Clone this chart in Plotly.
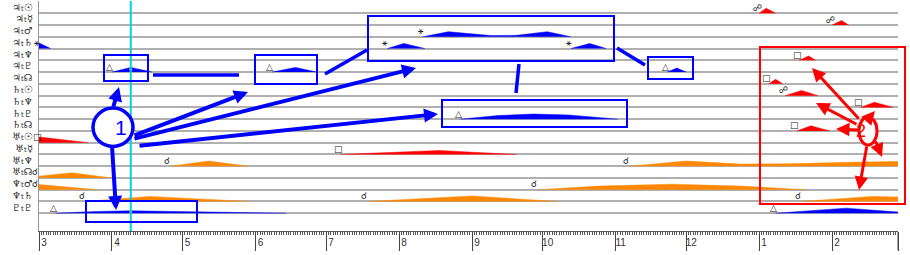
import numpy as np
import pandas as pd
import plotly.graph_objects as go

# ---------------- data ----------------
TRANSITING = ["♃", "♃", "♃", "♃", "♃", "♃", "♃", "♄", "♄", "♄", "♄",
              "♅", "♅", "♅", "♅", "♆", "♆", "♇"]
NATAL = ["☉", "☿", "♂", "♄", "♆", "♇", "☊", "☉", "♆", "♇", "☊",
         "☉", "☿", "♆", "☊", "♂", "♄", "♇"]

EVENT_ROW = [0, 1, 2, 3, 3, 3, 4, 5, 5, 5, 6, 7, 8, 9, 10, 11, 12, 13, 13,
             14, 15, 15, 16, 16, 16, 17, 17]
EVENT_ASPECT = ["☍", "☍", "⚹", "⚹", "⚹", "⚹", "□", "△", "△", "△", "□", "☍", "□",
                "△", "□", "□", "□", "☌", "☌", "☌", "☌", "☌", "☌", "☌", "☌",
                "△", "△"]
EVENT_DATES = [
    ["2023-01-01", "2023-01-04", "2023-01-08"],
    ["2023-02-01", "2023-02-05", "2023-02-08"],
    ["2022-08-11", "2022-08-22", "2022-09-09", "2022-09-20", "2022-10-03", "2022-10-13"],
    ["2022-03-01", "2022-03-01", "2022-03-06"],
    ["2022-07-27", "2022-08-03", "2022-08-12"],
    ["2022-10-13", "2022-10-21", "2022-10-28"],
    ["2023-01-18", "2023-01-22", "2023-01-25"],
    ["2022-04-01", "2022-04-09", "2022-04-18"],
    ["2022-06-08", "2022-06-18", "2022-06-27"],
    ["2022-11-23", "2022-11-27", "2022-12-01"],
    ["2023-01-05", "2023-01-08", "2023-01-11"],
    ["2023-01-12", "2023-01-19", "2023-01-26"],
    ["2023-02-13", "2023-02-19", "2023-02-27"],
    ["2022-08-27", "2022-09-12", "2022-09-27", "2022-10-12", "2022-11-02"],
    ["2023-01-17", "2023-01-23", "2023-01-31"],
    ["2022-03-01", "2022-03-01", "2022-03-22"],
    ["2022-07-07", "2022-08-18", "2022-09-20"],
    ["2022-04-26", "2022-05-12", "2022-05-29"],
    ["2022-11-07", "2022-12-01", "2022-12-24", "2023-01-14", "2023-02-08", "2023-03-01", "2023-03-01"],
    ["2022-03-01", "2022-03-01", "2022-03-15", "2022-04-01"],
    ["2022-03-01", "2022-03-01", "2022-03-26"],
    ["2022-09-29", "2022-10-25", "2022-11-25", "2022-12-24", "2023-01-21"],
    ["2022-03-21", "2022-04-17", "2022-05-29"],
    ["2022-07-19", "2022-09-01", "2022-10-07"],
    ["2023-01-19", "2023-02-18", "2023-03-01", "2023-03-01"],
    ["2022-03-08", "2022-03-26", "2022-04-09", "2022-04-30", "2022-06-14"],
    ["2023-01-08", "2023-02-07", "2023-03-01", "2023-03-01"],
]
EVENT_LEVELS = [
    [0, 0.85, 0],
    [0, 0.75, 0],
    [0, 0.85, 0.2, 0.25, 0.85, 0],
    [0, 0.95, 0],
    [0, 0.85, 0],
    [0, 0.85, 0],
    [0, 0.73, 0],
    [0, 0.78, 0],
    [0, 0.78, 0],
    [0, 0.68, 0],
    [0, 0.75, 0],
    [0, 0.85, 0],
    [0, 0.85, 0],
    [0, 0.6, 0.85, 0.7, 0],
    [0, 0.85, 0],
    [0, 0.95, 0],
    [0, 0.65, 0],
    [0, 0.85, 0],
    [0, 0.85, 0.35, 0.4, 0.65, 0.8, 0],
    [0, 0.3, 0.85, 0],
    [0, 0.85, 0],
    [0, 0.6, 0.92, 0.6, 0],
    [0, 0.85, 0],
    [0, 0.92, 0],
    [0, 0.85, 0.75, 0],
    [0, 0.3, 0.4, 0.3, 0],
    [0, 0.85, 0.2, 0],
]
MONTH_TICKS = ["2022-03-01", "2022-04-01", "2022-05-01", "2022-06-01", "2022-07-01",
               "2022-08-01", "2022-09-01", "2022-10-01", "2022-11-01", "2022-12-01",
               "2023-01-01", "2023-02-01", "2023-03-01"]
MONTH_LABELS = ["3", "4", "5", "6", "7", "8", "9", "10", "11", "12", "1", "2", ""]
START_DATE = "2022-03-01"
END_DATE = "2023-03-01"
CURSOR_DATE = "2022-04-09"

# ---------------- style ----------------
BLUE = "#0000ff"
RED = "#ff0000"
ORANGE = "#ff8800"
ASPECT_COLOR = {"☍": RED, "□": RED, "△": BLUE, "⚹": BLUE, "☌": ORANGE}
HEIGHT_SCALE = 0.51
W, H = 910, 255
ML, MR, MT, MB = 39, 12, 1, 24
PW, PH = W - ML - MR, H - MT - MB
FONT = "DejaVu Sans"


def xp(px):
    return (px - ML) / PW


def yp(py):
    return (H - MB - py) / PH


fig = go.Figure()

for row, asp, dates, levels in zip(EVENT_ROW, EVENT_ASPECT, EVENT_DATES, EVENT_LEVELS):
    c = ASPECT_COLOR[asp]
    fig.add_trace(go.Scatter(
        x=dates, y=[row - lv * HEIGHT_SCALE for lv in levels],
        mode="lines", fill="toself", fillcolor=c,
        line=dict(color=c, width=0.5), hoverinfo="skip", showlegend=False))

# cursor intersections
cur = pd.Timestamp(CURSOR_DATE).value
for k in (7, 25):
    xs = pd.to_datetime(EVENT_DATES[k]).astype("int64").to_numpy()
    lv = float(np.interp(cur, xs, EVENT_LEVELS[k]))
    fig.add_trace(go.Scatter(
        x=[CURSOR_DATE], y=[EVENT_ROW[k] - lv * HEIGHT_SCALE * 0.6], mode="markers",
        marker=dict(color="#ff66cc", size=3), hoverinfo="skip", showlegend=False))

annotations = []
for i, (t, n) in enumerate(zip(TRANSITING, NATAL)):
    annotations.append(dict(
        xref="paper", x=0, xanchor="right", xshift=-5, yref="y", y=i - 0.52,
        text=f"{t}<span style='font-size:7px'>t</span>{n}", showarrow=False, borderpad=0,
        font=dict(family=FONT, size=10, color="#333333")))

for row, asp, dates in zip(EVENT_ROW, EVENT_ASPECT, EVENT_DATES):
    annotations.append(dict(
        xref="x", x=dates[0], xanchor="center", xshift=-4 if asp == "☌" else -2,
        yref="y", y=row - 0.47, text=asp, showarrow=False, borderpad=0,
        font=dict(family=FONT, size=9, color="#222222")))

shapes = [dict(type="line", xref="x", yref="paper", x0=CURSOR_DATE, x1=CURSOR_DATE,
               y0=0, y1=1, line=dict(color="#00d2e6", width=2), layer="above"),
          dict(type="line", xref="x", yref="paper", x0=END_DATE, x1=END_DATE,
               y0=0, y1=yp(250), line=dict(color="#444", width=1), layer="above")]

# ---------------- markup (pixel positions) ----------------
BLUE_BOXES = [(104, 55, 148, 81), (255, 55, 317, 84), (368, 16, 614, 61),
              (648, 57, 693, 79), (442, 100, 627, 127), (86, 201, 197, 222)]
for x0, y0, x1, y1 in BLUE_BOXES:
    shapes.append(dict(type="rect", xref="paper", yref="paper", x0=xp(x0), x1=xp(x1),
                       y0=yp(y0), y1=yp(y1), line=dict(color=BLUE, width=2), layer="above"))

BLUE_LINES = [(153, 75, 239, 75), (325, 74, 367, 50), (617, 48, 645, 65), (519, 64, 516, 93)]
for x0, y0, x1, y1 in BLUE_LINES:
    shapes.append(dict(type="line", xref="paper", yref="paper", x0=xp(x0), x1=xp(x1),
                       y0=yp(y0), y1=yp(y1), line=dict(color=BLUE, width=3.5), layer="above"))

shapes.append(dict(type="circle", xref="paper", yref="paper", x0=xp(93), x1=xp(133),
                   y0=yp(108), y1=yp(146.5), line=dict(color=BLUE, width=3.5),
                   fillcolor="white", layer="above"))
annotations.append(dict(xref="paper", yref="paper", x=xp(113), y=yp(127.5), text="1",
                        showarrow=False, font=dict(family="Liberation Sans", size=21, color=BLUE)))

BLUE_ARROWS = [((113, 108), (119, 87)), ((133, 136), (248, 92)), ((133, 139), (416, 68)),
               ((138, 146), (438, 114)), ((112, 146), (116, 210))]
for (sx, sy), (tx, ty) in BLUE_ARROWS:
    annotations.append(dict(xref="paper", yref="paper", x=xp(tx), y=yp(ty),
                            ax=sx - tx, ay=sy - ty, text="", showarrow=True,
                            arrowhead=2, arrowsize=0.7, arrowwidth=4, arrowcolor=BLUE,
                            standoff=0, startstandoff=0))

shapes.append(dict(type="rect", xref="paper", yref="paper", x0=xp(760), x1=xp(905),
                   y0=yp(47), y1=yp(204), line=dict(color=RED, width=2), layer="above"))

RED_ARROWS = [((860, 120), (812, 68)), ((858, 125), (816, 103)), ((860, 130), (836, 129)),
              ((869, 118), (875, 111)), ((875, 140), (882, 157)), ((867, 145), (859, 190))]
for (sx, sy), (tx, ty) in RED_ARROWS:
    annotations.append(dict(xref="paper", yref="paper", x=xp(tx), y=yp(ty),
                            ax=sx - tx, ay=sy - ty, text="", showarrow=True,
                            arrowhead=2, arrowsize=0.9, arrowwidth=3, arrowcolor=RED,
                            standoff=0, startstandoff=0))
shapes.append(dict(type="circle", xref="paper", yref="paper", x0=xp(859), x1=xp(877),
                   y0=yp(117), y1=yp(145), line=dict(color=RED, width=3),
                   fillcolor="white", layer="above"))
annotations.append(dict(xref="paper", yref="paper", x=xp(868), y=yp(131), text="2",
                        showarrow=False, font=dict(family="Liberation Sans", size=18, color=RED)))

fig.update_layout(
    width=W, height=H, margin=dict(l=ML, r=MR, t=MT, b=MB),
    paper_bgcolor="white", plot_bgcolor="white",
    shapes=shapes, annotations=annotations, showlegend=False,
    xaxis=dict(type="date", range=[START_DATE, END_DATE],
               tickmode="array", tickvals=MONTH_TICKS, ticktext=MONTH_LABELS,
               ticks="outside", ticklen=19, tickwidth=1, tickcolor="#444",
               showline=True, linecolor="#555", linewidth=1, showgrid=False, zeroline=False,
               ticklabelstandoff=-17, ticklabelshift=5,
               tickfont=dict(family="Liberation Sans", size=10, color="#333"),
               minor=dict(dtick=86400000, tick0=START_DATE, ticks="outside", ticklen=3,
                          tickcolor="#555", tickwidth=1, showgrid=False)),
    yaxis=dict(range=[18.51, -1.046], tickvals=list(range(len(NATAL))), showticklabels=False,
               ticks="", showgrid=True, gridcolor="#b0b0b0", gridwidth=1.5,
               zeroline=False, showline=True, linecolor="#999", linewidth=1),
)

fig.write_html("out.html")
